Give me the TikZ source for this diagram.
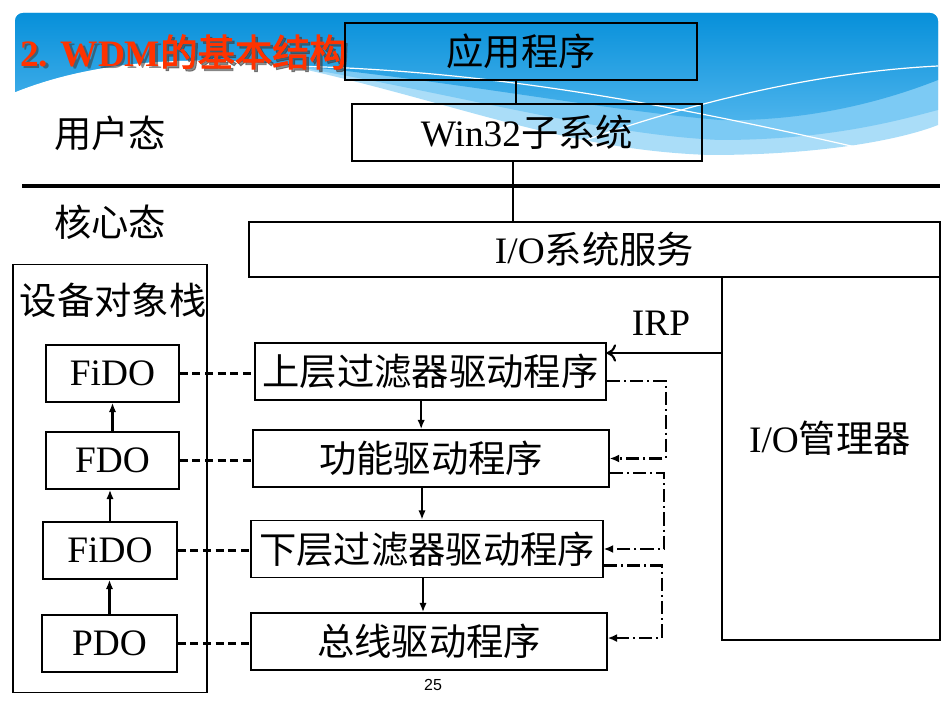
\documentclass[tikz,border=0pt]{standalone}
\usepackage{fontspec}
\usepackage{xcolor}
\setmainfont{Liberation Serif}
\newfontfamily\cjk[AutoFakeBold=2.5]{Noto Sans CJK SC}
\newfontfamily\pagefont{Liberation Sans}
\usetikzlibrary{arrows.meta}
\newcommand{\zh}[1]{{\cjk #1}}
\definecolor{bannertop}{HTML}{0790DA}
\definecolor{bannerbot}{HTML}{4DB4EC}
\definecolor{wavemid}{HTML}{7CCAF4}
\definecolor{wavelight}{HTML}{AADDF8}
\definecolor{titlered}{HTML}{FF3300}
\tikzset{
  blk/.style={draw, line width=1.1pt, minimum height=42.75pt, inner sep=0pt, minimum width=#1},
  dashlink/.style={line width=1.6pt, dash pattern=on 6pt off 3.5pt},
  feedback/.style={line width=1.6pt, dash pattern=on 10pt off 3pt on 1.5pt off 3pt, -{Latex[length=7pt,width=6pt]}},
  callarrow/.style={line width=1.6pt, -{Latex[length=7pt,width=5.5pt]}},
}

\begin{document}
\begin{tikzpicture}[x=0.75pt, y=-0.75pt, font=\fontsize{28}{31}\selectfont]
	\useasboundingbox (0,0) rectangle (952,705);
	% banner
	\fill[wavelight] (15,92) [rounded corners=6pt] -- (15,13) -- (938,13) [sharp corners] -- (938,125)
		.. controls (900,140) and (820,155) .. (710,155) .. controls (560,150) and (450,100) .. (280,64)
		.. controls (180,55) and (90,62) .. (15,92) -- cycle;
	\fill[wavemid] (15,92) [rounded corners=6pt] -- (15,13) -- (938,13) [sharp corners] -- (938,110)
		.. controls (900,120) and (830,140) .. (720,140) .. controls (600,135) and (450,92) .. (280,64)
		.. controls (180,55) and (90,62) .. (15,92) -- cycle;
	\shade[top color=bannertop, bottom color=bannerbot] (15,92) [rounded corners=6pt] -- (15,13) -- (938,13) [sharp corners] -- (938,80)
		.. controls (900,95) and (820,122) .. (720,120) .. controls (600,110) and (450,80) .. (280,64)
		.. controls (180,55) and (90,62) .. (15,92) -- cycle;
	\draw[white, line width=0.9pt] (290,66) .. controls (480,70) and (650,100) .. (860,148);
	\draw[white, line width=0.9pt] (938,66) .. controls (820,72) and (700,100) .. (580,142);
	% title
	\node[anchor=west, inner sep=0pt, text=black!75, opacity=0.6, font=\fontsize{28}{31}\selectfont\bfseries] (titleshadow) at (22.5,54.5) {2. WDM\zh{的基本结构}};
	\node[anchor=west, inner sep=0pt, text=titlered, font=\fontsize{28}{31}\selectfont\bfseries] (title) at (20,52) {2. WDM\zh{的基本结构}};
	% user mode
	\node[blk=264pt] (app) at (521,51.5) {\zh{应用程序}};
	\node[blk=262.5pt] (win) at (527,132.5) {Win32\zh{子系统}};
	\node (user) at (110,133) {\zh{用户态}};
	\node (kernel) at (110,222) {\zh{核心态}};
	\draw[line width=3pt] (22,186) -- (940,186);
	% kernel mode
	\node[blk=518.25pt, minimum height=41.25pt] (io) at (594.5,249.5) {I/O\zh{系统服务}};
	\node[blk=163.5pt, minimum height=272.25pt] (mgr) at (831,458.5) {};
	\node (mgrname) at (830,438) {I/O\zh{管理器}};
	\draw[line width=0.9pt] ([xshift=-3.75pt]app.south) -- ([xshift=-3.75pt]app.south |- win.north);
	\draw[line width=0.9pt] ([xshift=-10.5pt]win.south) -- ([xshift=-10.5pt]win.south |- io.north);
	% device object stack
	\node[blk=145.5pt, minimum height=321pt] (stack) at (110,478.5) {};
	\node (stackname) at (113,300) {\zh{设备对象栈}};
	\foreach \n/\t/\x/\y/\w in {fidoa/FiDO/112.5/373.5/99.75pt, fdo/FDO/112.5/460.5/99.75pt, fidob/FiDO/110/550.5/100.5pt, pdo/PDO/109.5/643.5/101.25pt}
		\node[blk=\w] (\n) at (\x,\y) {\t};
	% drivers
	\node[blk=263.25pt] (upper) at (430.5,371.5) {\zh{上层过滤器驱动程序}};
	\node[blk=267pt] (func) at (431,458.5) {\zh{功能驱动程序}};
	\node[blk=264pt] (lower) at (427,549) {\zh{下层过滤器驱动程序}};
	\node[blk=267pt] (bus) at (429,641.5) {\zh{总线驱动程序}};
	% arrows
	\foreach \a/\b in {pdo/fidob, fidob/fdo, fdo/fidoa}
		\draw[callarrow] (\a.north) -- (\a.north |- \b.south);
	\foreach \a/\b/\s in {upper/func/-7pt, func/lower/-6.75pt, lower/bus/-3pt}
		\draw[callarrow] ([xshift=\s]\a.south) -- ([xshift=\s]\a.south |- \b.north);
	\foreach \a/\b in {fidoa/upper, fdo/func, fidob/lower, pdo/bus}
		\draw[dashlink] (\a.east) -- (\a.east -| \b.west);
	\foreach \a/\b/\s/\d/\e in {upper/func/-7pt/59/0pt, func/lower/-10.9pt/54/0pt, lower/bus/-12.4pt/58/2.6pt}
		\draw[feedback] ([yshift=\s]\a.east) -- ++(\d,0) |- ([yshift=\e]\b.east);
	% IRP
	\node (irp) at (661,323) {IRP};
	\coordinate (irpin) at (722,353);
	\draw[line width=1.6pt, -{To[length=7pt,width=13pt]}] (irpin) -- (irpin -| upper.east);
	\node (page) at (433,685) {\pagefont\fontsize{12}{14}\selectfont 25};
\end{tikzpicture}
\end{document}
